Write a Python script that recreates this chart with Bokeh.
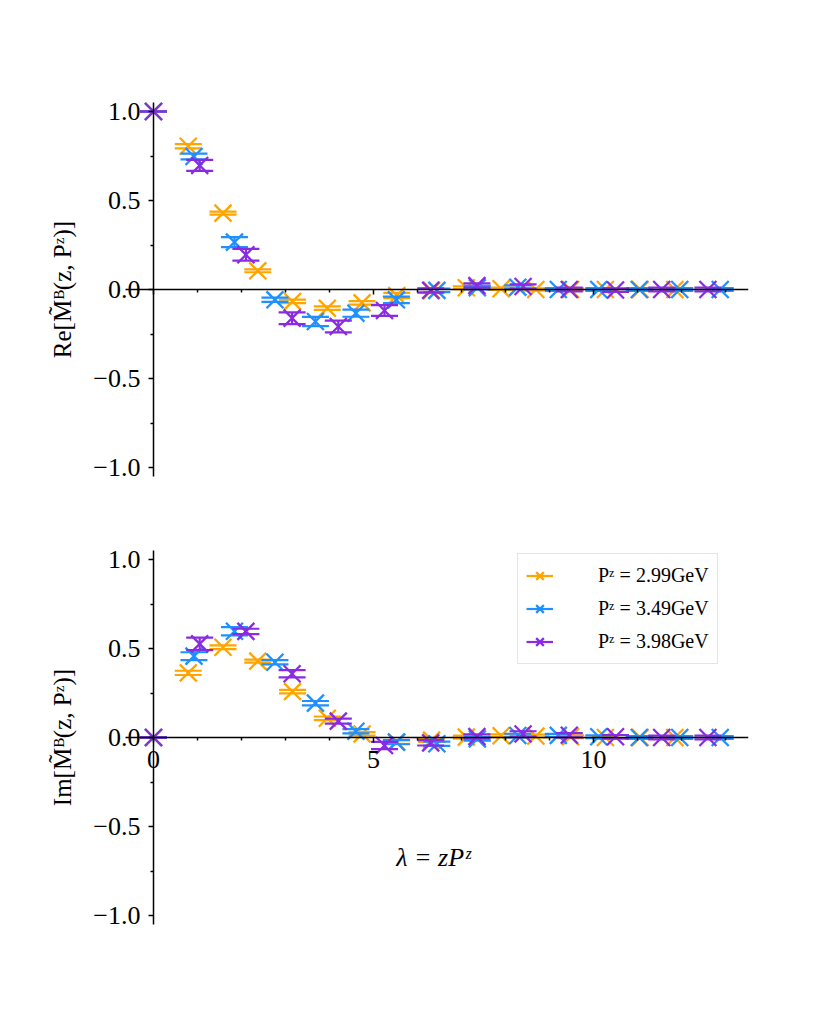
from bokeh.plotting import figure
from bokeh.models import (Range1d, FixedTicker, CustomJSTickFormatter, ColumnDataSource,
                          Legend, LegendItem, Label)
from bokeh.layouts import column
from bokeh.embed import file_html
from bokeh.resources import INLINE

# ---------------- data ----------------
series_labels = ["Pᶻ = 2.99GeV", "Pᶻ = 3.49GeV", "Pᶻ = 3.98GeV"]
series_colors = ["#FFA500", "#1E90FF", "#8A2BE2"]

lam_299 = [0.0, 0.79, 1.58, 2.37, 3.16, 3.95, 4.74, 5.53, 6.32, 7.11, 7.90, 8.69, 9.48, 10.27, 11.06, 11.85]
lam_349 = [0.0, 0.92, 1.84, 2.76, 3.68, 4.60, 5.52, 6.44, 7.36, 8.28, 9.20, 10.12, 11.04, 11.96, 12.88]
lam_398 = [0.0, 1.05, 2.10, 3.15, 4.20, 5.25, 6.30, 7.35, 8.40, 9.45, 10.50, 11.55, 12.60]

re_299 = [1.0, 0.805, 0.429, 0.105, -0.067, -0.105, -0.075, -0.034, -0.005, 0.010, 0.004, 0.000, 0.000, 0.000, 0.000, 0.000]
re_299_err = [0.0, 0.012, 0.008, 0.008, 0.010, 0.010, 0.010, 0.015, 0.010, 0.008, 0.006, 0.006, 0.006, 0.006, 0.006, 0.006]
re_349 = [1.0, 0.747, 0.266, -0.058, -0.180, -0.133, -0.058, -0.005, 0.010, 0.013, 0.000, 0.000, 0.000, 0.000, 0.000]
re_349_err = [0.0, 0.016, 0.028, 0.012, 0.026, 0.020, 0.018, 0.010, 0.010, 0.010, 0.008, 0.008, 0.008, 0.008, 0.008]
re_398 = [1.0, 0.697, 0.195, -0.161, -0.208, -0.118, -0.005, 0.022, 0.017, 0.000, -0.003, 0.000, 0.000]
re_398_err = [0.0, 0.031, 0.033, 0.033, 0.033, 0.030, 0.012, 0.012, 0.012, 0.010, 0.010, 0.010, 0.010]

im_299 = [0.0, 0.363, 0.507, 0.429, 0.258, 0.108, 0.020, -0.026, -0.015, 0.002, 0.010, 0.008, 0.004, 0.000, 0.000, 0.000]
im_299_err = [0.0, 0.012, 0.010, 0.008, 0.010, 0.010, 0.010, 0.010, 0.010, 0.008, 0.008, 0.008, 0.008, 0.008, 0.008, 0.008]
im_349 = [0.0, 0.457, 0.597, 0.423, 0.193, 0.035, -0.026, -0.035, -0.008, 0.011, 0.012, 0.004, 0.000, 0.000, 0.000]
im_349_err = [0.0, 0.022, 0.023, 0.012, 0.012, 0.012, 0.012, 0.012, 0.010, 0.010, 0.008, 0.008, 0.008, 0.008, 0.008]
im_398 = [0.0, 0.526, 0.596, 0.358, 0.092, -0.045, -0.030, 0.005, 0.020, 0.013, 0.004, 0.000, 0.000]
im_398_err = [0.0, 0.035, 0.015, 0.020, 0.014, 0.020, 0.015, 0.012, 0.015, 0.012, 0.010, 0.010, 0.010]

x_ticks = [0, 5, 10]
x_minor_ticks = [1, 2, 3, 4, 6, 7, 8, 9, 11, 12, 13]
y_ticks = [-1.0, -0.5, 0.0, 0.5, 1.0]
y_minor_ticks = [-0.75, -0.25, 0.25, 0.75]

x_limits = (-0.644, 13.52)   # extent of the horizontal spine
y_limits = (-1.05, 1.05)     # extent of the vertical spine

re_label = "Re[M̃ᴮ(z, Pᶻ)]"
im_label = "Im[M̃ᴮ(z, Pᶻ)]"
x_label = "λ = zPᶻ"

FONT = "Liberation Serif"

# ---------------- layout (pixels) ----------------
FRAME_LEFT = 30          # frame starts left of the spine so that the tick labels are not clipped
FRAME_W = 718
PX_PER_X = 44.0
X0_PX = 153 - FRAME_LEFT  # position of x = 0 inside the frame
FRAME_H = 398
PX_PER_Y = 178.0

x_start = -X0_PX / PX_PER_X
x_end = x_start + FRAME_W / PX_PER_X
y_half = FRAME_H / 2 / PX_PER_Y


def make_fig(border_top, border_bottom, ylabel, show_xlabels):
    p = figure(width=FRAME_LEFT + FRAME_W + 74, height=border_top + FRAME_H + border_bottom,
               x_range=Range1d(x_start, x_end), y_range=Range1d(-y_half, y_half),
               output_backend="svg", toolbar_location=None,
               min_border_left=FRAME_LEFT, min_border_right=74,
               min_border_top=border_top, min_border_bottom=border_bottom)
    p.outline_line_color = None
    p.grid.visible = False
    p.background_fill_color = "white"
    p.border_fill_color = "white"

    xa = p.xaxis[0]
    xa.fixed_location = 0
    xa.bounds = x_limits
    xa.ticker = FixedTicker(ticks=x_ticks, minor_ticks=x_minor_ticks)
    if show_xlabels:
        xa.formatter = CustomJSTickFormatter(code="return tick.toFixed(0);")
    else:
        xa.formatter = CustomJSTickFormatter(code="return '';")
    xa.axis_line_width = 1.5
    xa.major_tick_line_width = 1.5
    xa.minor_tick_line_width = 1.5
    xa.major_tick_out = 5
    xa.major_tick_in = 0
    xa.minor_tick_out = 3
    xa.minor_tick_in = 0
    xa.major_label_text_font = FONT
    xa.major_label_text_font_size = "26px"
    xa.major_label_text_color = "black"
    xa.major_label_standoff = 8

    ya = p.yaxis[0]
    ya.fixed_location = 0
    ya.bounds = y_limits
    ya.ticker = FixedTicker(ticks=y_ticks, minor_ticks=y_minor_ticks)
    ya.formatter = CustomJSTickFormatter(
        code="return (tick < 0 ? '\u2212' : '') + Math.abs(tick).toFixed(1);")
    ya.axis_line_width = 1.5
    ya.major_tick_line_width = 1.5
    ya.minor_tick_line_width = 1.5
    ya.major_tick_out = 5
    ya.major_tick_in = 0
    ya.minor_tick_out = 3
    ya.minor_tick_in = 0
    ya.major_label_text_font = FONT
    ya.major_label_text_font_size = "26px"
    ya.major_label_text_color = "black"
    ya.major_label_standoff = 8
    ya.axis_label = ylabel
    ya.axis_label_text_font = FONT
    ya.axis_label_text_font_size = "25px"
    ya.axis_label_text_font_style = "normal"
    ya.axis_label_text_color = "black"
    ya.axis_label_standoff = 14
    return p


def draw_series(p, xs, ys, errs, color):
    lo = [y - e for y, e in zip(ys, errs)]
    hi = [y + e for y, e in zip(ys, errs)]
    src = ColumnDataSource(dict(x=xs, y=ys, lo=lo, hi=hi))
    seg = p.segment(x0="x", y0="lo", x1="x", y1="hi", source=src,
                    line_color=color, line_width=2.2)
    p.scatter("x", "lo", source=src, marker="dash", size=27,
              line_color=color, line_width=2.2)
    p.scatter("x", "hi", source=src, marker="dash", size=27,
              line_color=color, line_width=2.2)
    mk = p.scatter("x", "y", source=src, marker="x", size=24,
                   line_color=color, line_width=2.3)
    return seg, mk


# top panel: y = 0 at page y 289; bottom panel: y = 0 at page y 737
TOP_BORDER_1 = 289 - FRAME_H // 2
p1 = make_fig(TOP_BORDER_1, 513 - TOP_BORDER_1 - FRAME_H, re_label, False)
TOP_BORDER_2 = 737 - 513 - FRAME_H // 2
p2 = make_fig(TOP_BORDER_2, 74, im_label, True)

re_sets = [(lam_299, re_299, re_299_err), (lam_349, re_349, re_349_err), (lam_398, re_398, re_398_err)]
im_sets = [(lam_299, im_299, im_299_err), (lam_349, im_349, im_349_err), (lam_398, im_398, im_398_err)]

for (xs, ys, es), c in zip(re_sets, series_colors):
    draw_series(p1, xs, ys, es, c)

items = []
for (xs, ys, es), c, lab in zip(im_sets, series_colors, series_labels):
    seg, mk = draw_series(p2, xs, ys, es, c)
    items.append(LegendItem(label=lab, renderers=[seg, mk]))

# legend box: left at page x 517, bottom at page y 664
legend = Legend(items=items, location=(517 - FRAME_LEFT, (513 + TOP_BORDER_2 + FRAME_H) - 664), margin=0,
                glyph_width=27, glyph_height=27, spacing=6, padding=8,
                label_standoff=45, label_text_font=FONT, label_text_font_size="20px",
                label_text_color="black",
                border_line_color="#cccccc", border_line_width=1.5,
                background_fill_color="white", background_fill_alpha=0.8)
p2.add_layout(legend)

p2.add_layout(Label(x=6.36, y=-0.675, text=x_label, text_font=FONT,
                    text_font_size="26px", text_font_style="italic",
                    text_align="center", text_baseline="middle", text_color="black"))

layout = column(p1, p2, spacing=0)

with open("out.html", "w") as f:
    f.write(file_html(layout, INLINE))
